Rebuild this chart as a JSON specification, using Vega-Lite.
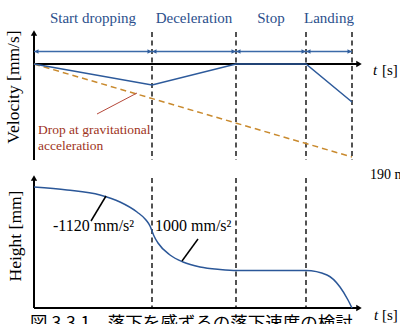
{
  "$schema": "https://vega.github.io/schema/vega-lite/v6.json",
  "width": 400,
  "height": 324,
  "autosize": {"type": "fit", "contains": "padding"},
  "padding": 0,
  "background": "white",
  "config": {
    "view": {"stroke": null},
    "axis": {"disable": true},
    "text": {"font": "Liberation Serif"}
  },
  "data": {"values": [{"note": "annotation"}]},
  "datasets": {
    "phases": [
      {"phase": "Start dropping", "start": 0, "end": 118},
      {"phase": "Deceleration", "start": 118, "end": 202},
      {"phase": "Stop", "start": 202, "end": 272},
      {"phase": "Landing", "start": 272, "end": 318}
    ],
    "velocity": [
      {"t": 0, "v": 0},
      {"t": 118, "v": -21},
      {"t": 202, "v": 0},
      {"t": 272, "v": 0},
      {"t": 318, "v": -38}
    ],
    "gravity": [
      {"t": 0, "v": 0},
      {"t": 318, "v": -93}
    ],
    "height": [
      {"t": 0, "h": 121},
      {"t": 33, "h": 118},
      {"t": 66, "h": 113},
      {"t": 86, "h": 106},
      {"t": 103, "h": 96},
      {"t": 112, "h": 88},
      {"t": 116, "h": 82},
      {"t": 118, "h": 77},
      {"t": 120, "h": 72},
      {"t": 124, "h": 65},
      {"t": 136, "h": 53},
      {"t": 149, "h": 46},
      {"t": 166, "h": 41},
      {"t": 186, "h": 38.5},
      {"t": 203, "h": 37.5},
      {"t": 272, "h": 37.5},
      {"t": 293, "h": 33},
      {"t": 306, "h": 21},
      {"t": 314, "h": 8},
      {"t": 318, "h": 0}
    ]
  },
  "layer": [
    {
      "layer": [
        {
          "data": {"name": "phases"},
          "mark": {"type": "rule", "strokeDash": [5, 3.5], "strokeWidth": 1.5, "color": "#1a1a1a"},
          "encoding": {
            "x": {"field": "end", "type": "quantitative", "scale": {"domain": [-34, 366], "nice": false, "zero": false}},
            "y": {"datum": 32, "type": "quantitative", "scale": {"domain": [-260, 64], "nice": false, "zero": false}},
            "y2": {"datum": -96}
          }
        },
        {
          "mark": {"type": "rule", "strokeWidth": 2, "color": "#000000"},
          "encoding": {
            "x": {"datum": 0, "type": "quantitative", "scale": {"domain": [-34, 366], "nice": false, "zero": false}},
            "y": {"datum": -96, "type": "quantitative", "scale": {"domain": [-260, 64], "nice": false, "zero": false}},
            "y2": {"datum": 30}
          }
        },
        {
          "mark": {"type": "rule", "strokeWidth": 2, "color": "#000000"},
          "encoding": {
            "x": {"datum": 0, "type": "quantitative", "scale": {"domain": [-34, 366], "nice": false, "zero": false}},
            "x2": {"datum": 323},
            "y": {"datum": 0, "type": "quantitative", "scale": {"domain": [-260, 64], "nice": false, "zero": false}}
          }
        },
        {
          "mark": {"type": "point", "shape": "triangle-up", "filled": true, "size": 40, "color": "#000000", "opacity": 1},
          "encoding": {
            "x": {"datum": 0, "type": "quantitative", "scale": {"domain": [-34, 366], "nice": false, "zero": false}},
            "y": {"datum": 31, "type": "quantitative", "scale": {"domain": [-260, 64], "nice": false, "zero": false}}
          }
        },
        {
          "mark": {"type": "point", "shape": "triangle-right", "filled": true, "size": 40, "color": "#000000", "opacity": 1},
          "encoding": {
            "x": {"datum": 325, "type": "quantitative", "scale": {"domain": [-34, 366], "nice": false, "zero": false}},
            "y": {"datum": 0, "type": "quantitative", "scale": {"domain": [-260, 64], "nice": false, "zero": false}}
          }
        },
        {
          "data": {"name": "phases"},
          "mark": {"type": "rule", "strokeWidth": 1.5, "color": "#3b6aa8"},
          "encoding": {
            "x": {"field": "start", "type": "quantitative", "scale": {"domain": [-34, 366], "nice": false, "zero": false}},
            "x2": {"field": "end"},
            "y": {"datum": 12.5, "type": "quantitative", "scale": {"domain": [-260, 64], "nice": false, "zero": false}}
          }
        },
        {
          "data": {"name": "phases"},
          "mark": {"type": "point", "shape": "triangle-left", "filled": true, "size": 22, "color": "#2f5c9c", "opacity": 1},
          "encoding": {
            "x": {"field": "start", "type": "quantitative", "scale": {"domain": [-34, 366], "nice": false, "zero": false}},
            "xOffset": {"value": 2.5},
            "y": {"datum": 12.5, "type": "quantitative", "scale": {"domain": [-260, 64], "nice": false, "zero": false}}
          }
        },
        {
          "data": {"name": "phases"},
          "mark": {"type": "point", "shape": "triangle-right", "filled": true, "size": 22, "color": "#2f5c9c", "opacity": 1},
          "encoding": {
            "x": {"field": "end", "type": "quantitative", "scale": {"domain": [-34, 366], "nice": false, "zero": false}},
            "xOffset": {"value": -2.5},
            "y": {"datum": 12.5, "type": "quantitative", "scale": {"domain": [-260, 64], "nice": false, "zero": false}}
          }
        },
        {
          "data": {"name": "phases"},
          "transform": [{"calculate": "(datum.start + datum.end) / 2", "as": "mid"}],
          "mark": {"type": "text", "fontSize": 15, "color": "#2b4f8c", "baseline": "middle", "align": "center"},
          "encoding": {
            "x": {"field": "mid", "type": "quantitative", "scale": {"domain": [-34, 366], "nice": false, "zero": false}},
            "y": {"datum": 46, "type": "quantitative", "scale": {"domain": [-260, 64], "nice": false, "zero": false}},
            "text": {"field": "phase"}
          }
        },
        {
          "data": {"name": "gravity"},
          "mark": {"type": "line", "strokeDash": [6, 4], "strokeWidth": 1.5, "color": "#c98a2e"},
          "encoding": {
            "x": {"field": "t", "type": "quantitative", "scale": {"domain": [-34, 366], "nice": false, "zero": false}},
            "y": {"field": "v", "type": "quantitative", "scale": {"domain": [-260, 64], "nice": false, "zero": false}}
          }
        },
        {
          "data": {"name": "velocity"},
          "mark": {"type": "line", "strokeWidth": 1.5, "color": "#2d5a9b"},
          "encoding": {
            "x": {"field": "t", "type": "quantitative", "scale": {"domain": [-34, 366], "nice": false, "zero": false}},
            "y": {"field": "v", "type": "quantitative", "scale": {"domain": [-260, 64], "nice": false, "zero": false}}
          }
        },
        {
          "mark": {"type": "rule", "strokeWidth": 1, "color": "#b5483a"},
          "encoding": {
            "x": {"datum": 103, "type": "quantitative", "scale": {"domain": [-34, 366], "nice": false, "zero": false}},
            "y": {"datum": -29, "type": "quantitative", "scale": {"domain": [-260, 64], "nice": false, "zero": false}},
            "x2": {"datum": 63},
            "y2": {"datum": -50}
          }
        },
        {
          "mark": {"type": "text", "fontSize": 13.5, "color": "#9e3322", "align": "left", "baseline": "middle", "lineHeight": 15.5},
          "encoding": {
            "x": {"datum": 4, "type": "quantitative", "scale": {"domain": [-34, 366], "nice": false, "zero": false}},
            "y": {"datum": -66, "type": "quantitative", "scale": {"domain": [-260, 64], "nice": false, "zero": false}},
            "text": {"value": ["Drop at gravitational", "acceleration"]}
          }
        },
        {
          "mark": {"type": "text", "fontSize": 17.5, "color": "#000000", "align": "center", "baseline": "middle", "angle": 270},
          "encoding": {
            "x": {"datum": -20, "type": "quantitative", "scale": {"domain": [-34, 366], "nice": false, "zero": false}},
            "y": {"datum": -23, "type": "quantitative", "scale": {"domain": [-260, 64], "nice": false, "zero": false}},
            "text": {"value": "Velocity [mm/s]"}
          }
        },
        {
          "mark": {"type": "text", "fontSize": 15, "fontStyle": "italic", "color": "#000000", "align": "left", "baseline": "middle"},
          "encoding": {
            "x": {"datum": 339, "type": "quantitative", "scale": {"domain": [-34, 366], "nice": false, "zero": false}},
            "y": {"datum": -6, "type": "quantitative", "scale": {"domain": [-260, 64], "nice": false, "zero": false}},
            "text": {"value": "t"}
          }
        },
        {
          "mark": {"type": "text", "fontSize": 15, "color": "#000000", "align": "left", "baseline": "middle"},
          "encoding": {
            "x": {"datum": 348, "type": "quantitative", "scale": {"domain": [-34, 366], "nice": false, "zero": false}},
            "y": {"datum": -6, "type": "quantitative", "scale": {"domain": [-260, 64], "nice": false, "zero": false}},
            "text": {"value": "[s]"}
          }
        }
      ]
    },
    {
      "layer": [
        {
          "data": {"name": "phases"},
          "transform": [{"filter": "datum.end < 300"}],
          "mark": {"type": "rule", "strokeDash": [5, 3.5], "strokeWidth": 1.5, "color": "#1a1a1a"},
          "encoding": {
            "x": {"field": "end", "type": "quantitative", "scale": {"domain": [-34, 366], "nice": false, "zero": false}},
            "y": {"datum": 130, "type": "quantitative", "scale": {"domain": [-16, 308], "nice": false, "zero": false}},
            "y2": {"datum": 0}
          }
        },
        {
          "mark": {"type": "rule", "strokeWidth": 2, "color": "#000000"},
          "encoding": {
            "x": {"datum": 0, "type": "quantitative", "scale": {"domain": [-34, 366], "nice": false, "zero": false}},
            "y": {"datum": 0, "type": "quantitative", "scale": {"domain": [-16, 308], "nice": false, "zero": false}},
            "y2": {"datum": 129}
          }
        },
        {
          "mark": {"type": "rule", "strokeWidth": 2, "color": "#000000"},
          "encoding": {
            "x": {"datum": 0, "type": "quantitative", "scale": {"domain": [-34, 366], "nice": false, "zero": false}},
            "x2": {"datum": 323},
            "y": {"datum": 0, "type": "quantitative", "scale": {"domain": [-16, 308], "nice": false, "zero": false}}
          }
        },
        {
          "mark": {"type": "point", "shape": "triangle-up", "filled": true, "size": 40, "color": "#000000", "opacity": 1},
          "encoding": {
            "x": {"datum": 0, "type": "quantitative", "scale": {"domain": [-34, 366], "nice": false, "zero": false}},
            "y": {"datum": 130, "type": "quantitative", "scale": {"domain": [-16, 308], "nice": false, "zero": false}}
          }
        },
        {
          "mark": {"type": "point", "shape": "triangle-right", "filled": true, "size": 40, "color": "#000000", "opacity": 1},
          "encoding": {
            "x": {"datum": 325, "type": "quantitative", "scale": {"domain": [-34, 366], "nice": false, "zero": false}},
            "y": {"datum": 0, "type": "quantitative", "scale": {"domain": [-16, 308], "nice": false, "zero": false}}
          }
        },
        {
          "data": {"name": "height"},
          "mark": {"type": "line", "strokeWidth": 1.5, "color": "#2b5798", "interpolate": "monotone"},
          "encoding": {
            "x": {"field": "t", "type": "quantitative", "scale": {"domain": [-34, 366], "nice": false, "zero": false}},
            "y": {"field": "h", "type": "quantitative", "scale": {"domain": [-16, 308], "nice": false, "zero": false}}
          }
        },
        {
          "mark": {"type": "rule", "strokeWidth": 1.5, "color": "#000000"},
          "encoding": {
            "x": {"datum": 72, "type": "quantitative", "scale": {"domain": [-34, 366], "nice": false, "zero": false}},
            "y": {"datum": 112, "type": "quantitative", "scale": {"domain": [-16, 308], "nice": false, "zero": false}},
            "x2": {"datum": 57},
            "y2": {"datum": 87}
          }
        },
        {
          "mark": {"type": "rule", "strokeWidth": 1.5, "color": "#000000"},
          "encoding": {
            "x": {"datum": 164, "type": "quantitative", "scale": {"domain": [-34, 366], "nice": false, "zero": false}},
            "y": {"datum": 69, "type": "quantitative", "scale": {"domain": [-16, 308], "nice": false, "zero": false}},
            "x2": {"datum": 148},
            "y2": {"datum": 47}
          }
        },
        {
          "mark": {"type": "text", "fontSize": 16, "color": "#000000", "align": "left", "baseline": "middle"},
          "encoding": {
            "x": {"datum": 19, "type": "quantitative", "scale": {"domain": [-34, 366], "nice": false, "zero": false}},
            "y": {"datum": 82, "type": "quantitative", "scale": {"domain": [-16, 308], "nice": false, "zero": false}},
            "text": {"value": "-1120 mm/s²"}
          }
        },
        {
          "mark": {"type": "text", "fontSize": 16, "color": "#000000", "align": "left", "baseline": "middle"},
          "encoding": {
            "x": {"datum": 121, "type": "quantitative", "scale": {"domain": [-34, 366], "nice": false, "zero": false}},
            "y": {"datum": 82, "type": "quantitative", "scale": {"domain": [-16, 308], "nice": false, "zero": false}},
            "text": {"value": "1000 mm/s²"}
          }
        },
        {
          "mark": {"type": "text", "fontSize": 17.5, "color": "#000000", "align": "center", "baseline": "middle", "angle": 270},
          "encoding": {
            "x": {"datum": -18, "type": "quantitative", "scale": {"domain": [-34, 366], "nice": false, "zero": false}},
            "y": {"datum": 72, "type": "quantitative", "scale": {"domain": [-16, 308], "nice": false, "zero": false}},
            "text": {"value": "Height [mm]"}
          }
        },
        {
          "mark": {"type": "text", "fontSize": 14, "color": "#000000", "align": "left", "baseline": "middle", "clip": true},
          "encoding": {
            "x": {"datum": 336, "type": "quantitative", "scale": {"domain": [-34, 366], "nice": false, "zero": false}},
            "y": {"datum": 133, "type": "quantitative", "scale": {"domain": [-16, 308], "nice": false, "zero": false}},
            "text": {"value": "190 mm"}
          }
        },
        {
          "mark": {"type": "text", "fontSize": 15, "fontStyle": "italic", "color": "#000000", "align": "left", "baseline": "middle"},
          "encoding": {
            "x": {"datum": 340, "type": "quantitative", "scale": {"domain": [-34, 366], "nice": false, "zero": false}},
            "y": {"datum": -7, "type": "quantitative", "scale": {"domain": [-16, 308], "nice": false, "zero": false}},
            "text": {"value": "t"}
          }
        },
        {
          "mark": {"type": "text", "fontSize": 15, "color": "#000000", "align": "left", "baseline": "middle"},
          "encoding": {
            "x": {"datum": 348, "type": "quantitative", "scale": {"domain": [-34, 366], "nice": false, "zero": false}},
            "y": {"datum": -7, "type": "quantitative", "scale": {"domain": [-16, 308], "nice": false, "zero": false}},
            "text": {"value": "[s]"}
          }
        },
        {
          "mark": {"type": "text", "font": "Noto Sans CJK JP", "fontSize": 17.5, "color": "#000000", "align": "left", "baseline": "top", "clip": true},
          "encoding": {
            "x": {"datum": -4, "type": "quantitative", "scale": {"domain": [-34, 366], "nice": false, "zero": false}},
            "y": {"datum": -7, "type": "quantitative", "scale": {"domain": [-16, 308], "nice": false, "zero": false}},
            "text": {"value": "図 3.3.1　落下を感ずるの落下速度の検討"}
          }
        }
      ]
    }
  ],
  "resolve": {"scale": {"y": "independent"}}
}
